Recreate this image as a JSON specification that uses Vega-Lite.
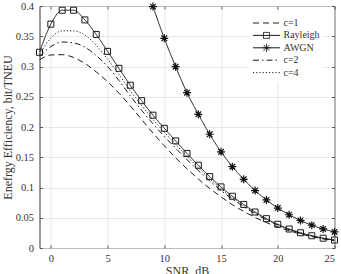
{
  "$schema": "https://vega.github.io/schema/vega-lite/v6.json",
  "width": 295,
  "height": 242,
  "autosize": {"type": "none"},
  "padding": {"left": 39.5, "top": 6, "right": 6.5, "bottom": 26},
  "config": {
    "font": "Liberation Serif",
    "view": {"stroke": "#333333", "strokeWidth": 1},
    "legend": {"labelFont": "Liberation Serif", "labelFontSize": 10, "labelColor": "#333333"},
    "axis": {
      "domain": false,
      "grid": true,
      "gridColor": "#e2e2e2",
      "gridWidth": 0.8,
      "ticks": true,
      "tickSize": -3,
      "tickColor": "#333333",
      "tickWidth": 0.8,
      "labelFont": "Liberation Serif",
      "labelFontSize": 10.5,
      "labelColor": "#333333",
      "titleFont": "Liberation Serif",
      "titleFontSize": 12,
      "titleFontWeight": "normal",
      "titleColor": "#333333"
    }
  },
  "data": {
    "values": [
      {"series": "Rayleigh", "snr": -1, "ee": 0.3235},
      {"series": "Rayleigh", "snr": 0, "ee": 0.370},
      {"series": "Rayleigh", "snr": 1, "ee": 0.393},
      {"series": "Rayleigh", "snr": 2, "ee": 0.393},
      {"series": "Rayleigh", "snr": 3, "ee": 0.377},
      {"series": "Rayleigh", "snr": 4, "ee": 0.353},
      {"series": "Rayleigh", "snr": 5, "ee": 0.325},
      {"series": "Rayleigh", "snr": 6, "ee": 0.297},
      {"series": "Rayleigh", "snr": 7, "ee": 0.269},
      {"series": "Rayleigh", "snr": 8, "ee": 0.2435},
      {"series": "Rayleigh", "snr": 9, "ee": 0.2195},
      {"series": "Rayleigh", "snr": 10, "ee": 0.1978},
      {"series": "Rayleigh", "snr": 11, "ee": 0.177},
      {"series": "Rayleigh", "snr": 12, "ee": 0.1563},
      {"series": "Rayleigh", "snr": 13, "ee": 0.1368},
      {"series": "Rayleigh", "snr": 14, "ee": 0.118},
      {"series": "Rayleigh", "snr": 15, "ee": 0.101},
      {"series": "Rayleigh", "snr": 16, "ee": 0.0855},
      {"series": "Rayleigh", "snr": 17, "ee": 0.072},
      {"series": "Rayleigh", "snr": 18, "ee": 0.0595},
      {"series": "Rayleigh", "snr": 19, "ee": 0.0485},
      {"series": "Rayleigh", "snr": 20, "ee": 0.0392},
      {"series": "Rayleigh", "snr": 21, "ee": 0.0314},
      {"series": "Rayleigh", "snr": 22, "ee": 0.0252},
      {"series": "Rayleigh", "snr": 23, "ee": 0.0202},
      {"series": "Rayleigh", "snr": 24, "ee": 0.0162},
      {"series": "Rayleigh", "snr": 25, "ee": 0.0132},

      {"series": "AWGN", "snr": 9, "ee": 0.399},
      {"series": "AWGN", "snr": 10, "ee": 0.3466},
      {"series": "AWGN", "snr": 11, "ee": 0.2997},
      {"series": "AWGN", "snr": 12, "ee": 0.2567},
      {"series": "AWGN", "snr": 13, "ee": 0.221},
      {"series": "AWGN", "snr": 14, "ee": 0.188},
      {"series": "AWGN", "snr": 15, "ee": 0.159},
      {"series": "AWGN", "snr": 16, "ee": 0.1344},
      {"series": "AWGN", "snr": 17, "ee": 0.1135},
      {"series": "AWGN", "snr": 18, "ee": 0.095},
      {"series": "AWGN", "snr": 19, "ee": 0.0795},
      {"series": "AWGN", "snr": 20, "ee": 0.066},
      {"series": "AWGN", "snr": 21, "ee": 0.055},
      {"series": "AWGN", "snr": 22, "ee": 0.0455},
      {"series": "AWGN", "snr": 23, "ee": 0.0378},
      {"series": "AWGN", "snr": 24, "ee": 0.0315},
      {"series": "AWGN", "snr": 25, "ee": 0.0265},

      {"series": "c=1", "snr": -1, "ee": 0.311},
      {"series": "c=1", "snr": 0, "ee": 0.319},
      {"series": "c=1", "snr": 1, "ee": 0.3195},
      {"series": "c=1", "snr": 2, "ee": 0.315},
      {"series": "c=1", "snr": 3, "ee": 0.305},
      {"series": "c=1", "snr": 4, "ee": 0.291},
      {"series": "c=1", "snr": 5, "ee": 0.275},
      {"series": "c=1", "snr": 6, "ee": 0.256},
      {"series": "c=1", "snr": 7, "ee": 0.235},
      {"series": "c=1", "snr": 8, "ee": 0.2125},
      {"series": "c=1", "snr": 9, "ee": 0.190},
      {"series": "c=1", "snr": 10, "ee": 0.169},
      {"series": "c=1", "snr": 11, "ee": 0.149},
      {"series": "c=1", "snr": 12, "ee": 0.131},
      {"series": "c=1", "snr": 13, "ee": 0.114},
      {"series": "c=1", "snr": 14, "ee": 0.0985},
      {"series": "c=1", "snr": 15, "ee": 0.0845},
      {"series": "c=1", "snr": 16, "ee": 0.0715},
      {"series": "c=1", "snr": 17, "ee": 0.0605},
      {"series": "c=1", "snr": 18, "ee": 0.0505},
      {"series": "c=1", "snr": 19, "ee": 0.042},
      {"series": "c=1", "snr": 20, "ee": 0.035},
      {"series": "c=1", "snr": 21, "ee": 0.0285},
      {"series": "c=1", "snr": 22, "ee": 0.0232},
      {"series": "c=1", "snr": 23, "ee": 0.0188},
      {"series": "c=1", "snr": 24, "ee": 0.015},
      {"series": "c=1", "snr": 25, "ee": 0.012},

      {"series": "c=2", "snr": -1, "ee": 0.316},
      {"series": "c=2", "snr": 0, "ee": 0.333},
      {"series": "c=2", "snr": 1, "ee": 0.3405},
      {"series": "c=2", "snr": 2, "ee": 0.339},
      {"series": "c=2", "snr": 3, "ee": 0.332},
      {"series": "c=2", "snr": 4, "ee": 0.318},
      {"series": "c=2", "snr": 5, "ee": 0.300},
      {"series": "c=2", "snr": 6, "ee": 0.277},
      {"series": "c=2", "snr": 7, "ee": 0.2515},
      {"series": "c=2", "snr": 8, "ee": 0.2275},
      {"series": "c=2", "snr": 9, "ee": 0.2055},
      {"series": "c=2", "snr": 10, "ee": 0.1845},
      {"series": "c=2", "snr": 11, "ee": 0.165},
      {"series": "c=2", "snr": 12, "ee": 0.146},
      {"series": "c=2", "snr": 13, "ee": 0.128},
      {"series": "c=2", "snr": 14, "ee": 0.111},
      {"series": "c=2", "snr": 15, "ee": 0.095},
      {"series": "c=2", "snr": 16, "ee": 0.0808},
      {"series": "c=2", "snr": 17, "ee": 0.0683},
      {"series": "c=2", "snr": 18, "ee": 0.0567},
      {"series": "c=2", "snr": 19, "ee": 0.0465},
      {"series": "c=2", "snr": 20, "ee": 0.0378},
      {"series": "c=2", "snr": 21, "ee": 0.0304},
      {"series": "c=2", "snr": 22, "ee": 0.0245},
      {"series": "c=2", "snr": 23, "ee": 0.0198},
      {"series": "c=2", "snr": 24, "ee": 0.0158},
      {"series": "c=2", "snr": 25, "ee": 0.0129},

      {"series": "c=4", "snr": -1, "ee": 0.320},
      {"series": "c=4", "snr": 0, "ee": 0.347},
      {"series": "c=4", "snr": 1, "ee": 0.359},
      {"series": "c=4", "snr": 2, "ee": 0.359},
      {"series": "c=4", "snr": 3, "ee": 0.352},
      {"series": "c=4", "snr": 4, "ee": 0.335},
      {"series": "c=4", "snr": 5, "ee": 0.312},
      {"series": "c=4", "snr": 6, "ee": 0.287},
      {"series": "c=4", "snr": 7, "ee": 0.260},
      {"series": "c=4", "snr": 8, "ee": 0.2355},
      {"series": "c=4", "snr": 9, "ee": 0.2125},
      {"series": "c=4", "snr": 10, "ee": 0.1915},
      {"series": "c=4", "snr": 11, "ee": 0.1715},
      {"series": "c=4", "snr": 12, "ee": 0.1515},
      {"series": "c=4", "snr": 13, "ee": 0.1327},
      {"series": "c=4", "snr": 14, "ee": 0.1147},
      {"series": "c=4", "snr": 15, "ee": 0.0982},
      {"series": "c=4", "snr": 16, "ee": 0.0828},
      {"series": "c=4", "snr": 17, "ee": 0.0705},
      {"series": "c=4", "snr": 18, "ee": 0.0582},
      {"series": "c=4", "snr": 19, "ee": 0.0475},
      {"series": "c=4", "snr": 20, "ee": 0.0384},
      {"series": "c=4", "snr": 21, "ee": 0.0308},
      {"series": "c=4", "snr": 22, "ee": 0.0248},
      {"series": "c=4", "snr": 23, "ee": 0.0200},
      {"series": "c=4", "snr": 24, "ee": 0.0160},
      {"series": "c=4", "snr": 25, "ee": 0.0131}
    ]
  },
  "resolve": {"axis": {"x": "independent", "y": "independent"}},
  "layer": [
    {
      "mark": {"type": "line", "interpolate": "monotone", "strokeWidth": 1, "color": "#1a1a1a", "clip": true},
      "encoding": {
        "x": {
          "field": "snr",
          "type": "quantitative",
          "scale": {"domain": [-1, 25], "nice": false, "zero": false},
          "axis": {"values": [0, 5, 10, 15, 20, 25], "title": "SNR, dB", "labelPadding": 8, "titlePadding": 2}
        },
        "y": {
          "field": "ee",
          "type": "quantitative",
          "scale": {"domain": [0, 0.4], "nice": false},
          "axis": {
            "values": [0, 0.05, 0.1, 0.15, 0.2, 0.25, 0.3, 0.35, 0.4],
            "format": ".2~f",
            "title": "Enefrgy Efficiency, bit/TNEU",
            "labelPadding": 9,
            "titlePadding": 1
          }
        },
        "strokeDash": {
          "field": "series",
          "type": "nominal",
          "scale": {
            "domain": ["c=1", "Rayleigh", "AWGN", "c=2", "c=4"],
            "range": [[6, 4], [1, 0], [1, 0], [6, 3, 1.5, 3], [1.2, 2]]
          },
          "legend": {
            "orient": "none",
            "legendX": 210,
            "legendY": 8,
            "title": null,
            "padding": 3,
            "fillColor": "white",
            "symbolType": "stroke",
            "symbolSize": 729,
            "symbolStrokeWidth": 1,
            "symbolStrokeColor": "#1a1a1a",
            "clipHeight": 12,
            "rowPadding": 0.4,
            "labelOffset": 3,
            "labelFont": "Liberation Serif",
            "labelFontSize": 10,
            "labelColor": "#333333",
            "encode": {
              "symbols": {
                "update": {
                  "shape": {"signal": "datum.value === 'Rayleigh' ? 'M-1,0L1,0M-0.22,-0.22L0.22,-0.22L0.22,0.22L-0.22,0.22Z' : datum.value === 'AWGN' ? 'M-1,0L1,0M-0.3,0L0.3,0M0,-0.3L0,0.3M-0.21,-0.21L0.21,0.21M-0.21,0.21L0.21,-0.21' : 'stroke'"},
                  "fill": {"value": "transparent"}
                }
              }
            }
          }
        }
      }
    },
    {
      "transform": [{"filter": "datum.series === 'Rayleigh'"}],
      "mark": {"type": "point", "shape": "square", "size": 36, "filled": false, "strokeWidth": 1, "color": "#1a1a1a", "opacity": 1},
      "encoding": {
        "x": {
          "field": "snr",
          "type": "quantitative",
          "axis": {"orient": "top", "values": [0, 5, 10, 15, 20, 25], "labels": false, "grid": false, "title": null}
        },
        "y": {
          "field": "ee",
          "type": "quantitative",
          "axis": {"orient": "right", "values": [0, 0.05, 0.1, 0.15, 0.2, 0.25, 0.3, 0.35, 0.4], "labels": false, "grid": false, "title": null}
        }
      }
    },
    {
      "transform": [{"filter": "datum.series === 'AWGN'"}],
      "mark": {"type": "point", "shape": "M-1,0L1,0M0,-1L0,1M-0.7,-0.7L0.7,0.7M-0.7,0.7L0.7,-0.7", "size": 64, "filled": false, "strokeWidth": 1.2, "color": "#111111", "opacity": 1},
      "encoding": {
        "x": {"field": "snr", "type": "quantitative", "axis": null},
        "y": {"field": "ee", "type": "quantitative", "axis": null}
      }
    }
  ]
}
